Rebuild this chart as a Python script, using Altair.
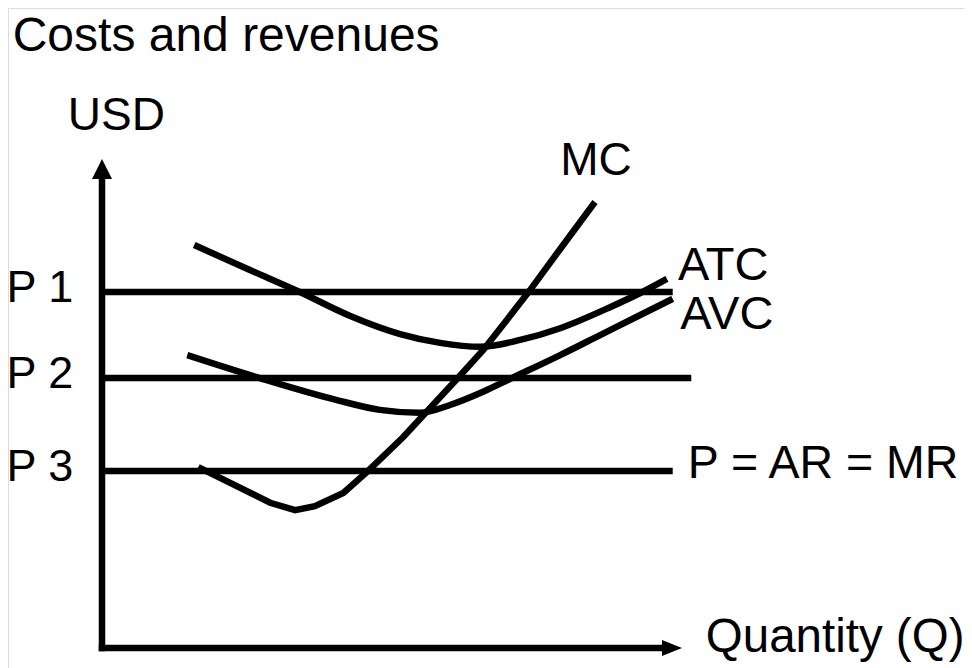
import altair as alt
import pandas as pd

# ---- data (abstract units: Quantity 0-100, USD 0-100) ----
atc_q = [15.9, 25.5, 34.1, 42.8, 51.4, 58.3, 65.2, 72.1, 79.0, 87.6, 92.8, 97.4]
atc_u = [82.4, 77.3, 72.8, 67.9, 64.2, 62.4, 61.6, 63.0, 65.4, 69.7, 72.6, 75.5]
avc_q = [14.7, 27.2, 40.5, 47.9, 54.8, 60.0, 65.7, 70.3, 79.0, 85.9, 92.8, 98.4]
avc_u = [59.9, 55.2, 50.7, 48.7, 48.1, 49.7, 52.4, 55.0, 59.9, 64.0, 68.1, 71.4]
mc_q = [16.6, 29.0, 33.3, 36.7, 41.6, 45.7, 51.9, 61.2, 65.7, 69.8, 73.8, 79.0, 85.0]
mc_u = [37.0, 29.7, 28.2, 29.0, 31.7, 36.0, 43.1, 55.0, 60.9, 67.1, 73.2, 81.6, 91.2]

price_names = ["P 1", "P 2", "P 3"]
price_levels = [72.8, 55.2, 36.2]
price_end_q = [98.4, 101.6, 98.4]

curve_labels = ["MC", "ATC", "AVC", "P = AR = MR", "Quantity (Q)"]
curve_label_q = [79.0, 99.3, 99.7, 101.0, 104.1]
curve_label_u = [96.7, 75.3, 65.2, 34.8, -0.8]
curve_label_size = [46, 47, 47, 46.5, 47.5]

title_texts = ["Costs and revenues", "USD"]
title_q = [-15.4, -5.9]
title_u = [122.1, 105.9]
title_size = [48, 46]

axis_len_q = 96.4   # x-axis shaft end (arrow base)
axis_len_u = 96.1   # y-axis shaft end (arrow base)
arrow_tip = 100.0

# ---- scales: map units to the page ----
W, H = 956, 660
X0, XPU = 94, 5.8      # plot-x of Q=0, px per unit
Y0, YPU = 640, 4.89    # plot-y of U=0, px per unit
xs = alt.Scale(domain=[(0 - X0) / XPU, (W - X0) / XPU], nice=False, zero=False)
ys = alt.Scale(domain=[(Y0 - H) / YPU, Y0 / YPU], nice=False, zero=False)
X = lambda f: alt.X(f, type="quantitative", scale=xs, axis=None)
Y = lambda f: alt.Y(f, type="quantitative", scale=ys, axis=None)

SW = 6.5
FONT = "Liberation Sans"

def curve(qs, us, interp):
    df = pd.DataFrame({"q": qs, "u": us, "i": range(len(qs))})
    return alt.Chart(df).mark_line(color="black", strokeWidth=SW, interpolate=interp).encode(
        x=X("q"), y=Y("u"), order="i:Q")

atc = curve(atc_q, atc_u, "monotone")
avc = curve(avc_q, avc_u, "monotone")
mc = curve(mc_q, mc_u, "linear")

prices = pd.DataFrame({"name": price_names, "u": price_levels,
                       "q0": [0] * 3, "q1": price_end_q})
price_rules = alt.Chart(prices).mark_rule(color="black", strokeWidth=SW).encode(
    x=X("q0"), x2="q1:Q", y=Y("u"))
price_text = alt.Chart(prices).mark_text(
    font=FONT, fontSize=45, color="black", align="left",
    baseline="alphabetic", dy=10).encode(
    x=alt.value(-1.5), y=Y("u"), text="name:N")

axes_df = pd.DataFrame({"q0": [0, 0], "q1": [0, axis_len_q],
                        "u0": [0, 0], "u1": [axis_len_u, 0]})
axes = alt.Chart(axes_df).mark_rule(color="black", strokeWidth=SW, strokeCap="square").encode(
    x=X("q0"), x2="q1:Q", y=Y("u0"), y2="u1:Q")

up = alt.Chart(pd.DataFrame({"q": [0], "u": [arrow_tip]})).mark_point(
    shape="M0,0L1,2L-1,2Z", size=400, filled=True, color="black", opacity=1,
    strokeWidth=0).encode(x=X("q"), y=Y("u"))
right = alt.Chart(pd.DataFrame({"q": [arrow_tip], "u": [0]})).mark_point(
    shape="M0,0L-2,-0.8L-2,0.8Z", size=400, filled=True, color="black", opacity=1,
    strokeWidth=0).encode(x=X("q"), y=Y("u"))

lab_df = pd.DataFrame({"t": curve_labels + title_texts,
                       "q": curve_label_q + title_q,
                       "u": curve_label_u + title_u,
                       "s": curve_label_size + title_size})
labels = alt.Chart(lab_df).mark_text(
    font=FONT, color="black", align="left", baseline="alphabetic").encode(
    x=X("q"), y=Y("u"), text="t:N", size=alt.Size("s:Q", scale=None, legend=None))

chart = alt.layer(price_rules, atc, avc, mc, axes, up, right,
                  price_text, labels).properties(
    width=W, height=H, padding=0,
    autosize=alt.AutoSizeParams(type="none"),
).configure_view(stroke=None).configure(background="white")

chart.save("out.html", embed_options={"renderer": "svg", "actions": False})
